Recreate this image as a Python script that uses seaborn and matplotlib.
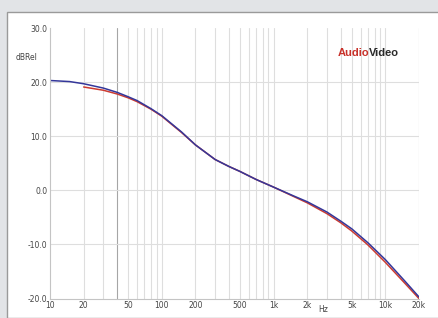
import numpy as np
import pandas as pd
import matplotlib
matplotlib.use('Agg')
import matplotlib.pyplot as plt
import seaborn as sns
from matplotlib.patches import Rectangle
from matplotlib.ticker import FixedLocator, NullFormatter

# frequency response readings (Hz, dB)
freq_blue = [10, 15, 20, 30, 40, 50, 60, 80, 100, 150, 200, 300, 400, 500, 700,
             1000, 1500, 2000, 3000, 4000, 5000, 7000, 10000, 15000, 20000]
db_blue = [20.3, 20.1, 19.7, 18.9, 18.1, 17.3, 16.6, 15.1, 13.8, 10.8, 8.4, 5.7, 4.4, 3.5, 2.0,
           0.6, -1.0, -2.1, -4.0, -5.7, -7.1, -9.7, -12.8, -16.8, -19.7]

freq_red = [20, 30, 40, 50, 60, 80, 100, 150, 200, 300, 400, 500, 700,
            1000, 1500, 2000, 3000, 4000, 5000, 7000, 10000, 15000, 20000]
db_red = [19.1, 18.5, 17.8, 17.1, 16.4, 15.0, 13.7, 10.7, 8.4, 5.7, 4.4, 3.5, 2.0,
          0.6, -1.1, -2.3, -4.3, -6.0, -7.5, -10.1, -13.3, -17.2, -20.0]

xticks = [10, 20, 50, 100, 200, 500, 1000, 2000, 5000, 10000, 20000]
xlabels = ['10', '20', '50', '100', '200', '500', '1k', '2k', '5k', '10k', '20k']
yticks = [-20, -10, 0, 10, 20, 30]

df = pd.concat([
    pd.DataFrame({'Hz': freq_red, 'dB': db_red, 'ch': 'red'}),
    pd.DataFrame({'Hz': freq_blue, 'dB': db_blue, 'ch': 'blue'}),
])

sns.set_style('white')
plt.rcParams['font.family'] = ['DejaVu Sans']

fig = plt.figure(figsize=(4.38, 3.18), dpi=100, facecolor='#e2e4e7')
fig.patches.append(Rectangle((7/438, 0), 1, 1 - 12/318, transform=fig.transFigure,
                             facecolor='white', edgecolor='#9a9a9a', lw=1, zorder=-10))
ax = fig.add_axes([50/438, 1 - 298.6/318, 369/438, (298.6 - 28)/318])
ax.set_facecolor('none')

# grid
minor = [m * 10**e for e in range(1, 5) for m in range(1, 10)] + [20000]
for f in minor:
    if 10 < f <= 20000:
        c = '#a6a6a6' if f == 40 else '#dedede'
        ax.axvline(f, color=c, lw=0.8, zorder=0)
for y in [-10, 0, 10, 20]:
    ax.axhline(y, color='#dedede', lw=0.8, zorder=0)

sns.lineplot(data=df, x='Hz', y='dB', hue='ch', palette={'red': '#cc3b30', 'blue': '#34379a'},
             lw=1.1, legend=False, ax=ax, sort=False, estimator=None)

ax.set_xscale('log')
ax.set_xlim(10, 20000)
ax.set_ylim(-20, 30)
ax.xaxis.set_major_locator(FixedLocator(xticks))
ax.xaxis.set_minor_formatter(NullFormatter())
ax.set_xticks(xticks)
ax.set_xticklabels(xlabels)
ax.set_yticks(yticks)
ax.set_yticklabels(['%.1f' % v for v in yticks])
ax.tick_params(axis='both', labelsize=5.5, colors='#444444', length=0, pad=2)
ax.tick_params(axis='x', which='minor', length=0)
ax.set_xlabel('')
ax.set_ylabel('')
for s in ['top', 'right']:
    ax.spines[s].set_visible(False)
for s in ['left', 'bottom']:
    ax.spines[s].set_color('#c4c4c4')
    ax.spines[s].set_linewidth(0.8)

fig.text(38/438, 1 - 57/318, 'dBRel', fontsize=5.5, color='#444444', ha='right', va='center')
fig.text(323/438, 1 - 309/318, 'Hz', fontsize=5.5, color='#444444', ha='center', va='center')

# logo
logo_font = ['Liberation Sans', 'DejaVu Sans']
fig.text(369/438, 1 - 53/318, 'Audio', fontsize=8, fontweight='bold', color='#c8312a',
         ha='right', va='center', family=logo_font)
fig.text(369/438, 1 - 53/318, 'Video', fontsize=8, fontweight='bold', color='#2a2a2a',
         ha='left', va='center', family=logo_font)

fig.savefig('out.png', dpi=100, facecolor=fig.get_facecolor())
